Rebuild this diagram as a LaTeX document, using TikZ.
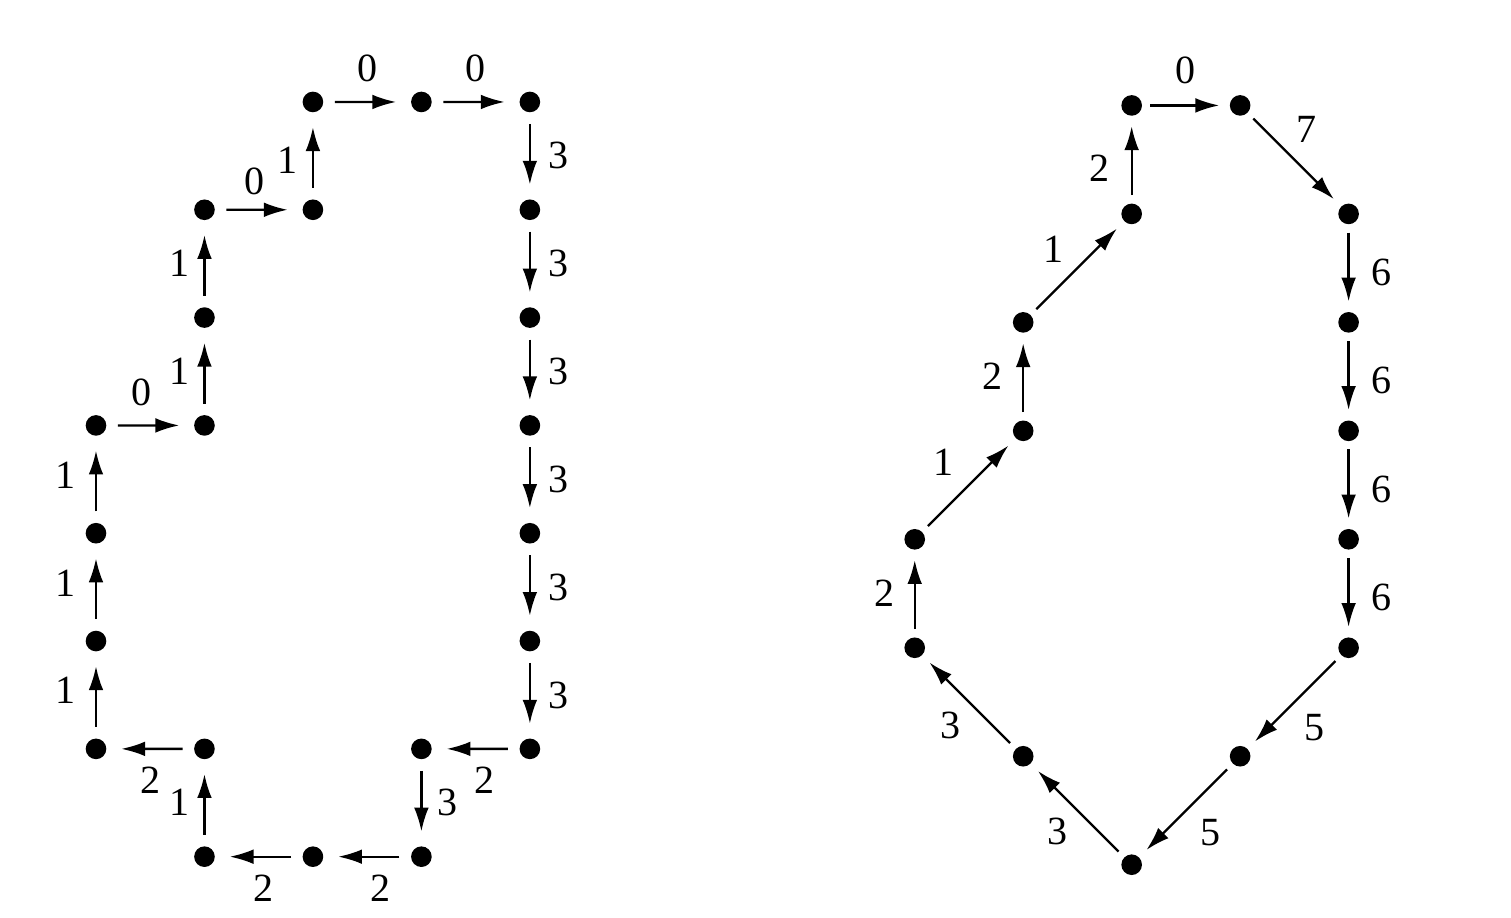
\documentclass[tikz,border=0pt]{standalone}
\usepackage{fontspec}
\setmainfont{Liberation Serif}
\usetikzlibrary{arrows.meta,positioning}
\tikzset{
  dot/.style={circle,fill,inner sep=0pt,minimum size=0.19cm},
  arr/.style={-{Latex[length=2.2mm,width=1.35mm]},line width=0.6pt,
    shorten <=0.1cm,shorten >=0.13cm},
  arrb/.style={arr,shorten <=0.07cm,shorten >=0.09cm},
  lab/.style={inner sep=0pt,font=\fontsize{10.5}{12}\selectfont}
}
\begin{document}
\begin{tikzpicture}
\useasboundingbox (0,0) rectangle (13.93,8.46);
% left: 4-direction chain
\begin{scope}[shift={(0.885,0.562)},yscale=0.994]
  \draw (0,4) node[dot] (a1) {};
  \draw (1,4) node[dot] (a2) {};
  \draw (1,5) node[dot] (a3) {};
  \draw (1,6) node[dot] (a4) {};
  \draw (2,6) node[dot] (a5) {};
  \draw (2,7) node[dot] (a6) {};
  \draw (3,7) node[dot] (a7) {};
  \draw (4,7) node[dot] (a8) {};
  \draw (4,6) node[dot] (a9) {};
  \draw (4,5) node[dot] (a10) {};
  \draw (4,4) node[dot] (a11) {};
  \draw (4,3) node[dot] (a12) {};
  \draw (4,2) node[dot] (a13) {};
  \draw (4,1) node[dot] (a14) {};
  \draw (3,1) node[dot] (a15) {};
  \draw (3,0) node[dot] (a16) {};
  \draw (2,0) node[dot] (a17) {};
  \draw (1,0) node[dot] (a18) {};
  \draw (1,1) node[dot] (a19) {};
  \draw (0,1) node[dot] (a20) {};
  \draw (0,2) node[dot] (a21) {};
  \draw (0,3) node[dot] (a22) {};
  \draw[arr] (a1)--(a2) node[lab,above=0.17cm,pos=.4] {0};
  \draw[arr] (a2)--(a3) node[lab,left=0.13cm,pos=.5] {1};
  \draw[arr] (a3)--(a4) node[lab,left=0.13cm,pos=.5] {1};
  \draw[arr] (a4)--(a5) node[lab,above=0.13cm,pos=.45] {0};
  \draw[arr] (a5)--(a6) node[lab,left=0.13cm,pos=.45] {1};
  \draw[arr] (a6)--(a7) node[lab,above=0.17cm,pos=.5] {0};
  \draw[arr] (a7)--(a8) node[lab,above=0.17cm,pos=.5] {0};
  \draw[arr] (a8)--(a9) node[lab,right=0.16cm,pos=.5] {3};
  \draw[arr] (a9)--(a10) node[lab,right=0.16cm,pos=.5] {3};
  \draw[arr] (a10)--(a11) node[lab,right=0.16cm,pos=.5] {3};
  \draw[arr] (a11)--(a12) node[lab,right=0.16cm,pos=.5] {3};
  \draw[arr] (a12)--(a13) node[lab,right=0.16cm,pos=.5] {3};
  \draw[arr] (a13)--(a14) node[lab,right=0.16cm,pos=.5] {3};
  \draw[arr] (a14)--(a15) node[lab,below=0.16cm,pos=.4] {2};
  \draw[arr] (a15)--(a16) node[lab,right=0.14cm,pos=.5] {3};
  \draw[arr] (a16)--(a17) node[lab,below=0.16cm,pos=.35] {2};
  \draw[arr] (a17)--(a18) node[lab,below=0.16cm,pos=.45] {2};
  \draw[arr] (a18)--(a19) node[lab,left=0.13cm,pos=.5] {1};
  \draw[arr] (a19)--(a20) node[lab,below=0.16cm,pos=.5] {2};
  \draw[arr] (a20)--(a21) node[lab,left=0.18cm,pos=.55] {1};
  \draw[arr] (a21)--(a22) node[lab,left=0.18cm,pos=.55] {1};
  \draw[arr] (a22)--(a1) node[lab,left=0.18cm,pos=.55] {1};
\end{scope}
% right: 8-direction chain
\begin{scope}[shift={(8.433,0.488)}]
  \draw (0,2) node[dot] (b1) {};
  \draw (0,3) node[dot] (b2) {};
  \draw (1,4) node[dot] (b3) {};
  \draw (1,5) node[dot] (b4) {};
  \draw (2,6) node[dot] (b5) {};
  \draw (2,7) node[dot] (b6) {};
  \draw (3,7) node[dot] (b7) {};
  \draw (4,6) node[dot] (b8) {};
  \draw (4,5) node[dot] (b9) {};
  \draw (4,4) node[dot] (b10) {};
  \draw (4,3) node[dot] (b11) {};
  \draw (4,2) node[dot] (b12) {};
  \draw (3,1) node[dot] (b13) {};
  \draw (2,0) node[dot] (b14) {};
  \draw (1,1) node[dot] (b15) {};
  \draw[arrb] (b1)--(b2) node[lab,left=0.18cm,pos=.5] {2};
  \draw[arrb] (b2)--(b3) node[lab,above left=0.08cm and 0.13cm,pos=.5] {1};
  \draw[arrb] (b3)--(b4) node[lab,left=0.18cm,pos=.5] {2};
  \draw[arrb] (b4)--(b5) node[lab,above left=0.04cm and 0.12cm,pos=.5] {1};
  \draw[arrb] (b5)--(b6) node[lab,left=0.19cm,pos=.4] {2};
  \draw[arrb] (b6)--(b7) node[lab,above=0.19cm,pos=.5] {0};
  \draw[arrb] (b7)--(b8) node[lab,above right=0.15cm and 0.01cm,pos=.5] {7};
  \draw[arrb] (b8)--(b9) node[lab,right=0.2cm,pos=.55] {6};
  \draw[arrb] (b9)--(b10) node[lab,right=0.2cm,pos=.55] {6};
  \draw[arrb] (b10)--(b11) node[lab,right=0.2cm,pos=.55] {6};
  \draw[arrb] (b11)--(b12) node[lab,right=0.2cm,pos=.55] {6};
  \draw[arrb] (b12)--(b13) node[lab,below right=0.1cm and 0.08cm,pos=.5] {5};
  \draw[arrb] (b13)--(b14) node[lab,below right=0.07cm and 0.12cm,pos=.5] {5};
  \draw[arrb] (b14)--(b15) node[lab,below left=0.06cm and 0.08cm,pos=.5] {3};
  \draw[arrb] (b15)--(b1) node[lab,below left=0.08cm and 0.07cm,pos=.5] {3};
\end{scope}
\end{tikzpicture}
\end{document}
